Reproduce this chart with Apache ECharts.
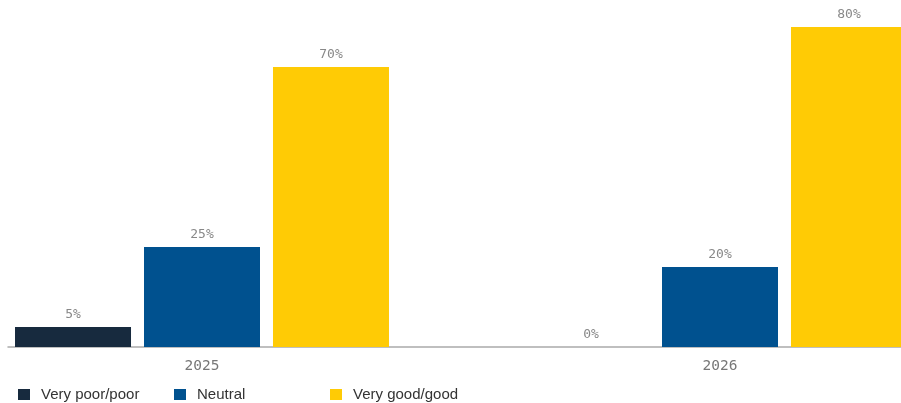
<!DOCTYPE html>
<html>
<head>
<meta charset="utf-8">
<script src="https://cdn.jsdelivr.net/npm/echarts@6/dist/echarts.min.js"></script>
<style>
  html, body { margin: 0; padding: 0; background: #fff; }
  #chart { width: 901px; height: 403px; }
</style>
</head>
<body>
<div id="chart"></div>
<script>
// Survey years on the category axis
const years = ['2025', '2026'];

// Share of answers per rating, in percent
const veryPoorPoor = [5, 0];
const neutral = [25, 20];
const veryGoodGood = [70, 80];

const seriesNames = ['Very poor/poor', 'Neutral', 'Very good/good'];
const seriesColors = ['#172a3e', '#00518f', '#ffcb05'];

const monoFont = '"DejaVu Sans Mono", "Liberation Mono", monospace';

function barSeries(name, values, color) {
  return {
    name: name,
    type: 'bar',
    xAxisIndex: 0,
    yAxisIndex: 0,
    data: values,
    barWidth: 116,
    barGap: '11.2%',
    itemStyle: { color: color },
    label: {
      show: true,
      position: 'top',
      distance: 6,
      formatter: '{c}%',
      fontFamily: monoFont,
      fontSize: 13,
      color: '#888888'
    }
  };
}

// One legend block per series, laid out on a fixed 156px pitch
function legendBlock(name, index) {
  return {
    data: [name],
    left: 18 + index * 156,
    top: 387,
    padding: 0,
    icon: 'rect',
    itemWidth: 12,
    itemHeight: 11,
    textStyle: {
      fontFamily: '"Liberation Sans", Arial, sans-serif',
      fontSize: 15,
      color: '#333333',
      padding: [0, 0, 0, 6]
    }
  };
}

const chart = echarts.init(document.getElementById('chart'), null, { renderer: 'canvas' });

chart.setOption({
  animation: false,
  backgroundColor: '#ffffff',
  grid: [
    // bars: the category bands run wider than the canvas on both sides
    { left: -57, width: 1036, top: 27, height: 320, containLabel: false, outerBoundsMode: 'none' },
    // baseline drawn across the visible width
    { left: 8, right: 0, top: 27, height: 320, containLabel: false, outerBoundsMode: 'none' }
  ],
  xAxis: [
    {
      type: 'category',
      gridIndex: 0,
      data: years,
      axisLine: { show: false },
      axisTick: { show: false },
      axisLabel: {
        margin: 12,
        fontFamily: monoFont,
        fontSize: 14.5,
        color: '#777777'
      }
    },
    {
      type: 'value',
      gridIndex: 1,
      min: 0,
      max: 1,
      axisLine: { show: true, lineStyle: { color: '#aaaaaa', width: 1.5 } },
      axisTick: { show: false },
      axisLabel: { show: false },
      splitLine: { show: false }
    }
  ],
  yAxis: [
    {
      type: 'value',
      gridIndex: 0,
      min: 0,
      max: 80,
      show: false,
      splitLine: { show: false }
    },
    {
      type: 'value',
      gridIndex: 1,
      min: 0,
      max: 1,
      show: false,
      splitLine: { show: false }
    }
  ],
  legend: seriesNames.map(legendBlock),
  series: [
    barSeries(seriesNames[0], veryPoorPoor, seriesColors[0]),
    barSeries(seriesNames[1], neutral, seriesColors[1]),
    barSeries(seriesNames[2], veryGoodGood, seriesColors[2])
  ]
});
</script>
</body>
</html>
